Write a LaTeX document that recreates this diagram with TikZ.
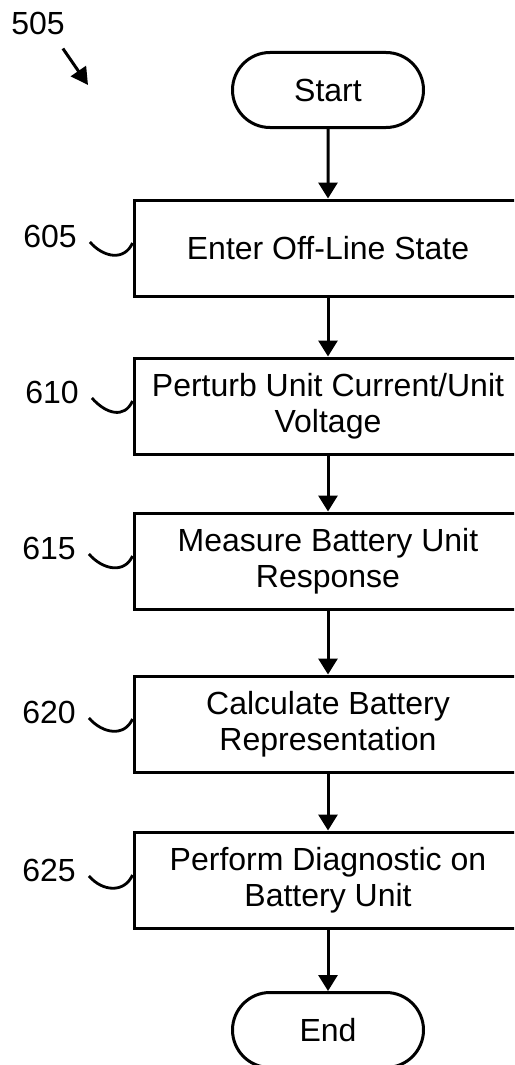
\documentclass[tikz,border=0pt]{standalone}
\usepackage{fontspec}
\setmainfont{Liberation Sans}
\usetikzlibrary{arrows.meta, shapes.misc}

\begin{document}
\begin{tikzpicture}[x=1pt, y=-1pt,
  term/.style={rounded rectangle, draw, line width=3pt, minimum width=191pt, minimum height=75pt, inner sep=0pt},
  proc/.style={rectangle, draw, line width=3pt, minimum width=388pt, minimum height=96pt, align=center, inner sep=0pt},
  e/.style={-{Triangle[length=16pt, width=19pt]}, line width=3pt},
  lbl/.style={inner sep=2pt},
  sq/.style={line width=2.8pt},
  font=\fontsize{32}{36}\selectfont]
  \clip (0,0) rectangle (514,1065);

  \node[term] (start) at (328,90)  {Start};
  \node[proc] (s605)  at (328,248) {Enter Off-Line State};
  \node[proc] (s610)  at (328,406) {Perturb Unit Current/Unit\\Voltage};
  \node[proc] (s615)  at (328,561) {Measure Battery Unit\\Response};
  \node[proc] (s620)  at (328,724) {Calculate Battery\\Representation};
  \node[proc] (s625)  at (328,880) {Perform Diagnostic on\\Battery Unit};
  \node[term] (end)   at (328,1030) {End};

  \draw[e] (start) -- (s605);
  \draw[e] (s605) -- (s610);
  \draw[e] (s610) -- (s615);
  \draw[e] (s615) -- (s620);
  \draw[e] (s620) -- (s625);
  \draw[e] (s625) -- (end);

  % reference numerals
  \node[lbl] (l505) at (38,23)  {505};
  \coordinate (p505) at (88,85);
  \draw[-{Triangle[length=17pt, width=18pt]}, line width=3pt]
    ([xshift=-4pt, yshift=-12pt]l505.south east) -- (p505);

  \node[lbl] (l605) at (50,236) {605};
  \node[lbl] (l610) at (52,392) {610};
  \node[lbl] (l615) at (49,548) {615};
  \node[lbl] (l620) at (49,712) {620};
  \node[lbl] (l625) at (49,870) {625};
  \foreach \n in {605,610,615,620,625}
    \draw[sq] ([xshift=11pt, yshift=-6pt]l\n.east)
      .. controls +(14,16) and +(-8,18) .. ([yshift=5pt]s\n.west);
\end{tikzpicture}
\end{document}
